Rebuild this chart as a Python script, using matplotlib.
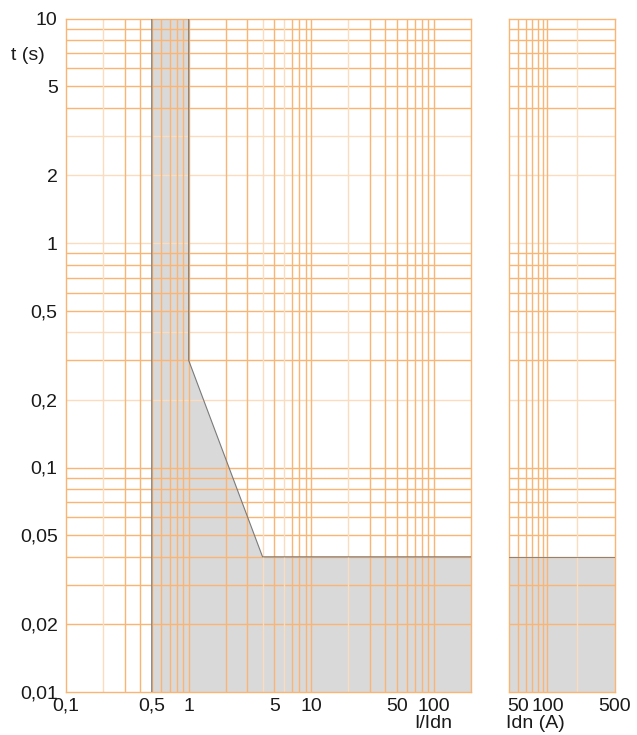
import matplotlib.pyplot as plt
import numpy as np

plt.rcParams['font.family'] = ['Liberation Sans', 'DejaVu Sans']

# tripping curve (I/Idn, t in s)
curve_x = [0.5, 0.5, 1, 1, 4, 200, 200]
curve_t = [0.01, 10, 10, 0.3, 0.04, 0.04, 0.01]

# right panel: Idn (A) range, shaded below t
idn_x = [40, 500]
idn_t = [0.04, 0.04]

# grid values
grid_x_left = [0.2, 0.3, 0.4, 0.5, 0.6, 0.7, 0.8, 0.9,
               1, 2, 3, 4, 5, 6, 7, 8, 9,
               10, 20, 30, 40, 50, 60, 70, 80, 90, 100]
grid_x_right = [50, 60, 70, 80, 90, 100, 200]
grid_y = [0.02, 0.03, 0.04, 0.05, 0.06, 0.07, 0.08, 0.09,
          0.1, 0.2, 0.3, 0.4, 0.5, 0.6, 0.7, 0.8, 0.9,
          1, 2, 3, 4, 5, 6, 7, 8, 9]
light_x = [0.2, 4, 6, 20, 200]
light_y = [0.4, 0.2, 3, 2, 1]

xticks_left = [0.1, 0.5, 1, 5, 10, 50, 100]
xlabels_left = ['0,1', '0,5', '1', '5', '10', '50', '100']
xticks_right = [50, 100, 500]
xlabels_right = ['50', '100', '500']
yticks = [0.01, 0.02, 0.05, 0.1, 0.2, 0.5, 1, 2, 5, 10]
ylabels = ['0,01', '0,02', '0,05', '0,1', '0,2', '0,5', '1', '2', '5', '10']

orange = '#f8b574'
orange_light = '#fbdcbf'
shade = '#d9d9d9'
edge = '#7a7a7a'
fs = 14

fig = plt.figure(figsize=(6.37, 7.35), dpi=100)
ax1 = fig.add_axes([66/637, 1-692/735, 405/637, 673.5/735])
ax2 = fig.add_axes([509/637, 1-692/735, 106/637, 673.5/735])

for ax in (ax1, ax2):
    ax.set_xscale('log')
    ax.set_yscale('log')
    ax.set_ylim(0.01, 10)
    ax.minorticks_off()
    for s in ax.spines.values():
        s.set_color(orange)
        s.set_linewidth(1.0)
    ax.tick_params(length=0, labelsize=fs, colors='#1a1a1a')
    for v in grid_y:
        ax.axhline(v, color=orange_light if v in light_y else orange,
                   lw=1.0, zorder=2)

ax1.set_xlim(0.1, 200)
ax1.fill(curve_x, curve_t, color=shade, lw=0, zorder=1)
ax1.plot(curve_x[:-1], curve_t[:-1], color=edge, lw=0.8, zorder=3)
for v in grid_x_left:
    ax1.axvline(v, color=orange_light if v in light_x else orange,
                lw=1.0, zorder=2)
ax1.set_xticks(xticks_left)
ax1.set_xticklabels(xlabels_left)
ax1.set_yticks(yticks)
ax1.set_yticklabels(ylabels)
ax1.tick_params(axis='x', pad=4)
ax1.tick_params(axis='y', pad=6)

ax2.set_xlim(40, 500)
ax2.fill_between(idn_x, 0.01, idn_t, color=shade, lw=0, zorder=1)
ax2.plot(idn_x, idn_t, color=edge, lw=0.6, zorder=3)
for v in grid_x_right:
    ax2.axvline(v, color=orange_light if v in light_x else orange,
                lw=1.0, zorder=2)
ax2.set_xticks(xticks_right)
ax2.set_xticklabels(xlabels_right)
ax2.set_yticks([])
ax2.tick_params(axis='x', pad=4)

fig.text(28/637, 1-55/735, 't (s)', fontsize=fs, ha='center', va='center',
         color='#1a1a1a')
fig.text(433/637, 1-724/735, 'I/Idn', fontsize=fs, ha='center',
         va='center', color='#1a1a1a')
fig.text(535/637, 1-724/735, 'Idn (A)', fontsize=fs, ha='center',
         va='center', color='#1a1a1a')

fig.savefig('out.png', dpi=100)
